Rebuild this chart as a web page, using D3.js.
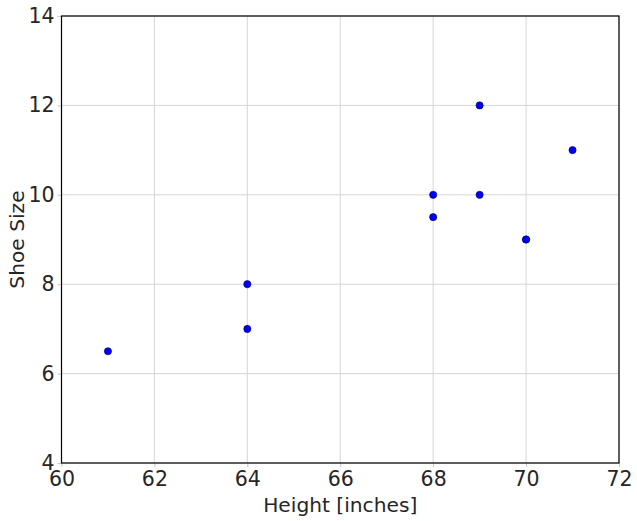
<!DOCTYPE html>
<html>
<head>
<meta charset="utf-8">
<script src="https://cdn.jsdelivr.net/npm/d3@7"></script>
<style>
	body { margin: 0; background: #fff; }
	text { font-family: "DejaVu Sans", sans-serif; fill: #262626; }
</style>
</head>
<body>
<div id="chart"></div>
<script>
// height / shoe size pairs
var heights = [61, 64, 64, 68, 68, 69, 69, 70, 70, 71];
var shoeSizes = [6.5, 8, 7, 10, 9.5, 12, 10, 9, 9, 11];
var xTicks = [60, 62, 64, 66, 68, 70, 72];
var yTicks = [4, 6, 8, 10, 12, 14];

var fullWidth = 637, fullHeight = 521;
var margin = {top: 16, right: 18, bottom: 58, left: 61.5};
var width = fullWidth - margin.left - margin.right;
var height = fullHeight - margin.top - margin.bottom;

var svg = d3.select("#chart")
	.append("svg")
	.attr("width", fullWidth)
	.attr("height", fullHeight)
	.append("g")
	.attr("transform", "translate(" + margin.left + "," + margin.top + ")");

var x = d3.scaleLinear().domain([60, 72]).range([0, width]);
var y = d3.scaleLinear().domain([4, 14]).range([height, 0]);

// grid
svg.append("g").selectAll("line").data(xTicks).enter().append("line")
	.attr("x1", d => x(d)).attr("x2", d => x(d))
	.attr("y1", 0).attr("y2", height)
	.attr("stroke", "#d6d6d6").attr("stroke-width", 1);
svg.append("g").selectAll("line").data(yTicks).enter().append("line")
	.attr("y1", d => y(d)).attr("y2", d => y(d))
	.attr("x1", 0).attr("x2", width)
	.attr("stroke", "#d6d6d6").attr("stroke-width", 1);

var xAxis = d3.axisBottom(x).tickValues(xTicks).tickSizeInner(4).tickSizeOuter(0).tickPadding(4);
var yAxis = d3.axisLeft(y).tickValues(yTicks).tickSizeInner(4).tickSizeOuter(0).tickPadding(3);

var gx = svg.append("g").attr("transform", "translate(0," + height + ")").call(xAxis);
var gy = svg.append("g").call(yAxis);
[gx, gy].forEach(g => {
	g.select(".domain").remove();
	g.selectAll(".tick line").attr("stroke", "#c8c8c8");
	g.selectAll(".tick text").attr("font-size", 20.5).attr("fill", "#262626")
		.style("font-family", "'DejaVu Sans', sans-serif");
});

// frame
svg.append("rect")
	.attr("width", width).attr("height", height)
	.attr("fill", "none").attr("stroke", "#000").attr("stroke-width", 1.2);

// points
svg.append("g").selectAll("circle").data(heights).enter().append("circle")
	.attr("cx", d => x(d))
	.attr("cy", (d, i) => y(shoeSizes[i]))
	.attr("r", 3.6)
	.attr("fill", "#0000ff")
	.attr("stroke", "#00003a").attr("stroke-width", 0.6);

svg.append("text")
	.attr("x", width / 2).attr("y", height + 49)
	.attr("text-anchor", "middle").attr("font-size", 20.2)
	.text("Height [inches]");

svg.append("text")
	.attr("transform", "translate(" + (-38) + "," + (height / 2) + ") rotate(-90)")
	.attr("text-anchor", "middle").attr("font-size", 20.2)
	.text("Shoe Size");
</script>
</body>
</html>
